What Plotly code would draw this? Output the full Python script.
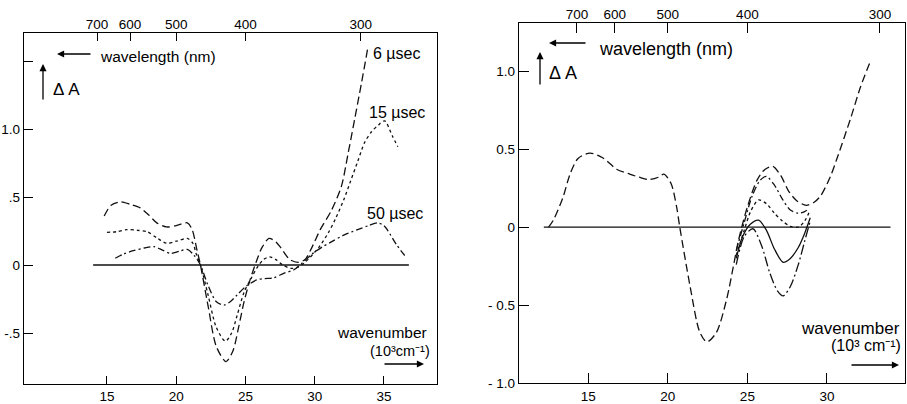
import plotly.graph_objects as go

W, H = 907, 404
FONT = "Liberation Sans"

# ---------------- data: left panel ----------------
wn_6us = [14.8, 15.3, 16.0, 16.7, 17.4, 18.0, 18.6, 19.3, 20.0, 20.8, 21.15, 21.5, 21.75,
          22.3, 22.9, 23.6, 24.1, 24.5, 24.9, 25.3, 25.8, 26.2, 26.7, 27.2, 27.6, 28.2,
          28.8, 29.3, 29.8, 30.4, 31.2, 31.93, 32.41, 32.9, 33.38, 33.84]
dA_6us = [0.36, 0.44, 0.465, 0.445, 0.42, 0.37, 0.31, 0.28, 0.29, 0.31, 0.26, 0.11, 0.0,
          -0.3, -0.6, -0.71, -0.63, -0.46, -0.27, -0.12, 0.03, 0.13, 0.195, 0.17, 0.12, 0.04,
          0.02, 0.04, 0.13, 0.26, 0.40, 0.58, 0.82, 1.08, 1.34, 1.60]

wn_15us = [15.0, 15.7, 16.4, 17.2, 17.9, 18.6, 19.3, 20.0, 20.8, 21.2, 21.45, 21.75, 22.3,
           22.9, 23.55, 24.0, 24.4, 24.9, 25.4, 25.9, 26.3, 26.75, 27.2, 27.7, 28.3, 28.8,
           29.3, 30.3, 31.0, 31.5, 32.1, 32.6, 33.1, 33.6, 34.1, 34.6, 35.05, 35.6, 36.0]
dA_15us = [0.24, 0.245, 0.26, 0.255, 0.245, 0.2, 0.16, 0.175, 0.195, 0.16, 0.08, 0.0, -0.22,
           -0.46, -0.56, -0.5, -0.37, -0.2, -0.1, -0.01, 0.04, 0.06, 0.04, 0.0, -0.025, -0.015,
           0.02, 0.13, 0.24, 0.34, 0.48, 0.62, 0.76, 0.90, 0.98, 1.03, 1.06, 0.95, 0.87]

wn_50us = [15.6, 16.2, 16.9, 17.7, 18.4, 19.0, 19.6, 20.2, 20.8, 21.3, 21.75, 22.3, 22.9,
           23.45, 23.9, 24.4, 25.0, 25.8, 26.4, 27.0, 27.8, 28.5, 29.1, 29.8, 30.5, 31.2,
           32.1, 33.1, 33.9, 34.55, 35.0, 35.3, 35.9, 36.5]
dA_50us = [0.05, 0.08, 0.105, 0.125, 0.135, 0.11, 0.085, 0.10, 0.115, 0.07, 0.0, -0.15, -0.27,
           -0.295, -0.27, -0.22, -0.16, -0.11, -0.10, -0.095, -0.06, -0.035, 0.015, 0.08, 0.13, 0.17,
           0.22, 0.26, 0.29, 0.31, 0.29, 0.25, 0.15, 0.07]

base_left_wn = [14.0, 36.8]
base_left_dA = [0.0, 0.0]

# ---------------- data: right panel ----------------
wn_main = [12.5, 12.8, 13.4, 13.85, 14.35, 15.1, 15.9, 16.8, 17.6, 18.2, 18.8, 19.4, 19.75,
           20.2, 20.55, 20.75, 21.4, 22.0, 22.45, 23.05, 23.7, 24.1, 24.45, 25.0, 25.6, 26.1,
           26.6, 27.1, 27.6, 28.1, 28.7, 29.2, 29.6, 30.2, 30.6, 31.5, 32.1, 32.7]
dA_main = [0.0, 0.045, 0.19, 0.34, 0.44, 0.475, 0.445, 0.37, 0.34, 0.32, 0.305, 0.32, 0.34,
           0.28, 0.13, 0.0, -0.38, -0.67, -0.735, -0.675, -0.46, -0.26, -0.08, 0.13, 0.30, 0.37,
           0.39, 0.33, 0.23, 0.17, 0.14, 0.16, 0.20, 0.32, 0.43, 0.70, 0.895, 1.055]

wn_b = [24.3, 24.8, 25.3, 25.8, 26.2, 26.7, 27.2, 27.7, 28.2, 28.6, 28.9]
dA_b = [-0.15, 0.03, 0.20, 0.30, 0.325, 0.27, 0.18, 0.11, 0.09, 0.10, 0.12]

wn_c = [24.3, 24.8, 25.2, 25.7, 26.2, 26.7, 27.2, 27.7, 28.2, 28.6, 28.95]
dA_c = [-0.18, -0.02, 0.10, 0.175, 0.15, 0.09, 0.04, 0.005, 0.0, 0.04, 0.11]

wn_d = [24.3, 24.7, 25.2, 25.7, 26.2, 26.7, 27.25, 27.7, 28.2, 28.6, 28.95]
dA_d = [-0.20, -0.06, 0.02, 0.045, -0.02, -0.14, -0.225, -0.20, -0.13, -0.04, 0.06]

wn_e = [24.3, 24.8, 25.35, 25.9, 26.4, 26.9, 27.25, 27.7, 28.2, 28.6, 28.95]
dA_e = [-0.24, -0.06, -0.01, -0.12, -0.29, -0.41, -0.44, -0.38, -0.24, -0.09, 0.04]

base_right_wn = [12.2, 34.0]
base_right_dA = [0.0, 0.0]

# ticks
wl_ticks = [700, 600, 500, 400, 300]
left_xticks = [15, 20, 25, 30, 35]
left_yticks = [-0.5, 0, 0.5, 1.0, 1.5]
left_ytext = ["-.5", "0", ".5", "1.0", ""]
right_xticks = [15, 20, 25, 30]
right_yticks = [-1.0, -0.5, 0, 0.5, 1.0]
right_ytext = ["- 1.0", "- 0.5", "0", "0.5", "1.0"]


def fx(p):
    return p / W


def fy(p):
    return 1 - p / H


LONG = "8px,4px"
SHORT = "3px,3px"
DASHDOT = "7px,3px,2px,3px"
LW = 1.3
C = "#111111"

fig = go.Figure()


def add(x, y, dash, xa, ya, width=LW):
    fig.add_trace(go.Scatter(x=x, y=y, mode="lines", xaxis=xa, yaxis=ya,
                             line=dict(color=C, width=width, dash=dash, shape="spline", smoothing=0.8),
                             showlegend=False, hoverinfo="skip"))


# left panel
add(base_left_wn, base_left_dA, "solid", "x", "y", 1.4)
add(wn_6us, dA_6us, LONG, "x", "y")
add(wn_15us, dA_15us, SHORT, "x", "y")
add(wn_50us, dA_50us, DASHDOT, "x", "y")

# right panel
add(base_right_wn, base_right_dA, "solid", "x2", "y2", 1.2)
add(wn_main, dA_main, LONG, "x2", "y2")
add(wn_b, dA_b, DASHDOT, "x2", "y2")
add(wn_c, dA_c, SHORT, "x2", "y2")
add(wn_d, dA_d, "solid", "x2", "y2")
add(wn_e, dA_e, "10px,3px,2px,3px", "x2", "y2")

# hidden traces so top wavelength axes render
wl_pos = [1e4 / w for w in wl_ticks]
fig.add_trace(go.Scatter(x=wl_pos, y=[0] * len(wl_pos), mode="markers", marker=dict(opacity=0),
                         xaxis="x3", yaxis="y", showlegend=False, hoverinfo="skip"))
fig.add_trace(go.Scatter(x=wl_pos, y=[0] * len(wl_pos), mode="markers", marker=dict(opacity=0),
                         xaxis="x4", yaxis="y2", showlegend=False, hoverinfo="skip"))

tickfont = dict(family=FONT, size=13.5, color="black")
common = dict(showgrid=False, zeroline=False, showline=True, linecolor="black", linewidth=1.4,
              ticks="inside", tickcolor="black", tickwidth=1.3, tickfont=tickfont, automargin=False)
topcommon = dict(showgrid=False, zeroline=False, showline=False, ticks="inside", tickcolor="black",
                 tickwidth=1.3, tickfont=tickfont, automargin=False)

L_XR = [9.01, 38.83]
L_YR = [-0.875, 1.706]
R_XR = [10.64, 34.91]
R_YR = [-1.0, 1.31]

fig.update_layout(
    template="none",
    width=W, height=H,
    margin=dict(l=0, r=0, t=0, b=0, pad=0),
    paper_bgcolor="white", plot_bgcolor="white",
    xaxis=dict(domain=[fx(24), fx(437)], range=L_XR, tickvals=left_xticks, ticklen=8,
               mirror=True, anchor="y", **common),
    yaxis=dict(domain=[fy(384), fy(33)], range=L_YR, tickvals=left_yticks, ticktext=left_ytext,
               ticklen=9, mirror=True, anchor="x", **common),
    xaxis3=dict(overlaying="x", side="top", range=L_XR, tickvals=wl_pos,
                ticktext=[str(w) for w in wl_ticks], ticklen=8, anchor="y", **topcommon),
    xaxis2=dict(domain=[fx(519), fx(905)], range=R_XR, tickvals=right_xticks, ticklen=10,
                mirror=True, anchor="y2", **common),
    yaxis2=dict(domain=[fy(383.3), fy(22.7)], range=R_YR, tickvals=right_yticks, ticktext=right_ytext,
                ticklen=10, mirror=True, anchor="x2", **common),
    xaxis4=dict(overlaying="x2", side="top", range=R_XR, tickvals=wl_pos,
                ticktext=[str(w) for w in wl_ticks], ticklen=10, anchor="y2", **topcommon),
)

anns = []


def text(x, y, s, size, xanchor="left"):
    anns.append(dict(x=fx(x), y=fy(y), xref="paper", yref="paper", text=s, showarrow=False,
                     xanchor=xanchor, yanchor="middle", borderpad=0,
                     font=dict(family=FONT, size=size, color="black")))


def arrow(hx, hy, tx, ty):
    anns.append(dict(x=fx(hx), y=fy(hy), xref="paper", yref="paper", ax=tx - hx, ay=ty - hy,
                     axref="pixel", ayref="pixel", text="", showarrow=True, arrowhead=2,
                     arrowsize=1.1, arrowwidth=1.3, arrowcolor="black"))


# left panel texts
arrow(57, 54, 92, 54)
text(99, 56, "wavelength (nm)", 15.5)
arrow(43, 64, 43, 101)
text(52, 90, "Δ A", 17)
text(372, 53, "6 µsec", 16)
text(368, 112, "15 µsec", 16)
text(366, 213, "50 µsec", 16)
text(428, 332, "wavenumber", 15.5, "right")
text(431, 351, "(10³cm⁻¹)", 14.5, "right")
arrow(424, 364, 383, 364)

# right panel texts
arrow(549, 43, 587, 43)
text(598, 49, "wavelength (nm)", 18)
arrow(540, 52, 540, 86)
text(548, 73, "Δ A", 18)
text(901, 328, "wavenumber", 17, "right")
text(902, 345, "(10³ cm⁻¹)", 16, "right")
arrow(899, 365, 850, 365)

fig.update_layout(annotations=anns)
fig.write_html("out.html", config={"displayModeBar": False},
               post_script="document.body.style.margin='0';document.body.style.overflow='hidden';")
